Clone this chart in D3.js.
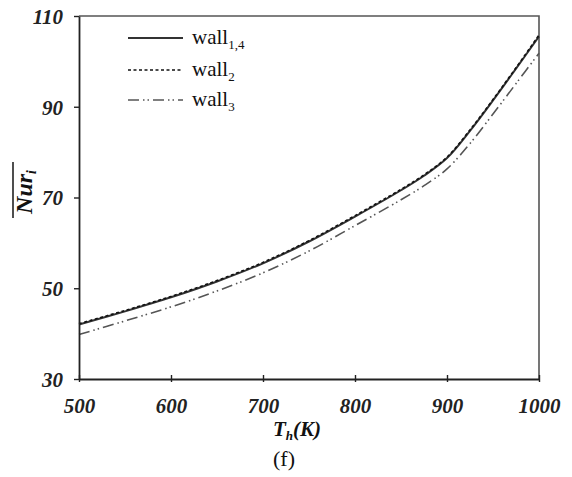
<!DOCTYPE html>
<html>
<head>
<meta charset="utf-8">
<script src="https://cdn.jsdelivr.net/npm/d3@7/dist/d3.min.js"></script>
<style>
  html, body { margin: 0; padding: 0; background: #fff; }
  svg { display: block; }
</style>
</head>
<body>
<svg id="chart" width="572" height="477"></svg>
<script>
// Hot-wall temperature (K)
const temperatures = [500, 550, 600, 650, 700, 750, 800, 850, 875, 900, 925, 950, 975, 1000];
// Average radiative Nusselt number on each wall
const wall14 = [42.0, 44.9, 48.0, 51.5, 55.5, 60.3, 65.8, 71.6, 74.8, 78.7, 84.7, 91.4, 98.4, 105.5];
const wall2  = [42.2, 45.1, 48.2, 51.7, 55.7, 60.5, 66.0, 71.8, 75.0, 78.9, 84.9, 91.6, 98.6, 105.8];
const wall3  = [39.8, 42.8, 45.9, 49.4, 53.4, 58.2, 63.8, 69.5, 72.6, 76.3, 81.9, 88.4, 95.1, 101.8];
const xTicks = [500, 600, 700, 800, 900, 1000];
const yTicks = [30, 50, 70, 90, 110];

const SERIF = "'Liberation Serif', 'Times New Roman', serif";

const svg = d3.select("#chart");
const plotLeft = 79, plotRight = 539, plotTop = 16, plotBottom = 379;

const x = d3.scaleLinear().domain([500, 1000]).range([plotLeft, plotRight]);
const y = d3.scaleLinear().domain([30, 110]).range([plotBottom, plotTop]);

// frame: top and right borders
svg.append("path")
  .attr("d", `M${plotLeft},${plotTop}H${plotRight}V${plotBottom}`)
  .attr("fill", "none").attr("stroke", "#555").attr("stroke-width", 1.6);

// curves
const line = d3.line()
  .x((d, i) => x(temperatures[i]))
  .y(d => y(d))
  .curve(d3.curveCatmullRom.alpha(0.5));

const series = [
  { name: "wall3", values: wall3, stroke: "#555", width: 1.6, dash: "11,4,1.5,3,1.5,4" },
  { name: "wall14", values: wall14, stroke: "#333", width: 2, dash: null },
  { name: "wall2", values: wall2, stroke: "#111", width: 1.6, dash: "3,2.5" }
];
series.forEach(s => {
  svg.append("path")
    .attr("d", line(s.values))
    .attr("fill", "none")
    .attr("stroke", s.stroke)
    .attr("stroke-width", s.width)
    .attr("stroke-dasharray", s.dash);
});

// axes
const xAxis = d3.axisBottom(x).tickValues(xTicks).tickSizeInner(4).tickSizeOuter(0).tickFormat(d3.format("d"));
const yAxis = d3.axisLeft(y).tickValues(yTicks).tickSizeInner(5).tickSizeOuter(0).tickFormat(d3.format("d"));

const gx = svg.append("g").attr("transform", `translate(0,${plotBottom})`).call(xAxis);
const gy = svg.append("g").attr("transform", `translate(${plotLeft},0)`).call(yAxis);

[gx, gy].forEach(g => {
  g.attr("font-family", null).attr("font-size", null);
  g.select(".domain").attr("stroke", "#222").attr("stroke-width", 1.8);
  g.selectAll(".tick line").attr("stroke", "#222").attr("stroke-width", 1.4);
  g.selectAll(".tick text")
    .attr("fill", "#222")
    .attr("font-family", SERIF)
    .attr("font-weight", "bold")
    .attr("font-style", "italic")
    .attr("font-size", 21);
});
// x ticks cross the axis line slightly
gx.selectAll(".tick line").attr("y1", -4).attr("y2", 3);
gx.selectAll(".tick text").attr("dy", null).attr("y", 34);
gy.selectAll(".tick text").attr("x", -16).attr("dy", "0.35em");

// x-axis title: T_h(K)
const xt = svg.append("text")
  .attr("x", 297).attr("y", 436)
  .attr("text-anchor", "middle")
  .attr("fill", "#111")
  .attr("font-family", SERIF)
  .attr("font-size", 21).attr("font-weight", "bold").attr("font-style", "italic");
xt.append("tspan").text("T");
xt.append("tspan").text("h").attr("dy", 4).attr("font-size", 13);
xt.append("tspan").text("(K)").attr("dy", -4);

// y-axis title: average Nur_i with overline
const yt = svg.append("g").attr("transform", "translate(32,192) rotate(-90)");
yt.append("text")
  .attr("text-anchor", "middle")
  .attr("fill", "#111")
  .attr("font-family", SERIF)
  .attr("font-size", 24).attr("font-weight", "bold").attr("font-style", "italic")
  .call(t => {
    t.append("tspan").text("Nur");
    t.append("tspan").text("i").attr("dy", 4).attr("font-size", 14);
  });
yt.append("line")
  .attr("x1", -26).attr("x2", 30).attr("y1", -19).attr("y2", -19)
  .attr("stroke", "#222").attr("stroke-width", 1.6);

// panel caption
svg.append("text")
  .attr("x", 284).attr("y", 466).attr("text-anchor", "middle")
  .attr("fill", "#111")
  .attr("font-family", SERIF)
  .attr("font-size", 22).text("(f)");

// legend
const legendItems = [
  { label: "wall", sub: "1,4", s: series[1], y: 38 },
  { label: "wall", sub: "2", s: series[2], y: 70 },
  { label: "wall", sub: "3", s: series[0], y: 100 }
];
legendItems.forEach(item => {
  svg.append("line")
    .attr("x1", 128).attr("x2", 183)
    .attr("y1", item.y).attr("y2", item.y)
    .attr("stroke", item.s.stroke)
    .attr("stroke-width", item.s.width)
    .attr("stroke-dasharray", item.s.dash);
  const t = svg.append("text")
    .attr("x", 192).attr("y", item.y + 6)
    .attr("fill", "#111")
    .attr("font-family", SERIF)
    .attr("font-size", 21);
  t.append("tspan").text(item.label);
  t.append("tspan").text(item.sub).attr("dy", 5).attr("font-size", 13);
});
</script>
</body>
</html>
